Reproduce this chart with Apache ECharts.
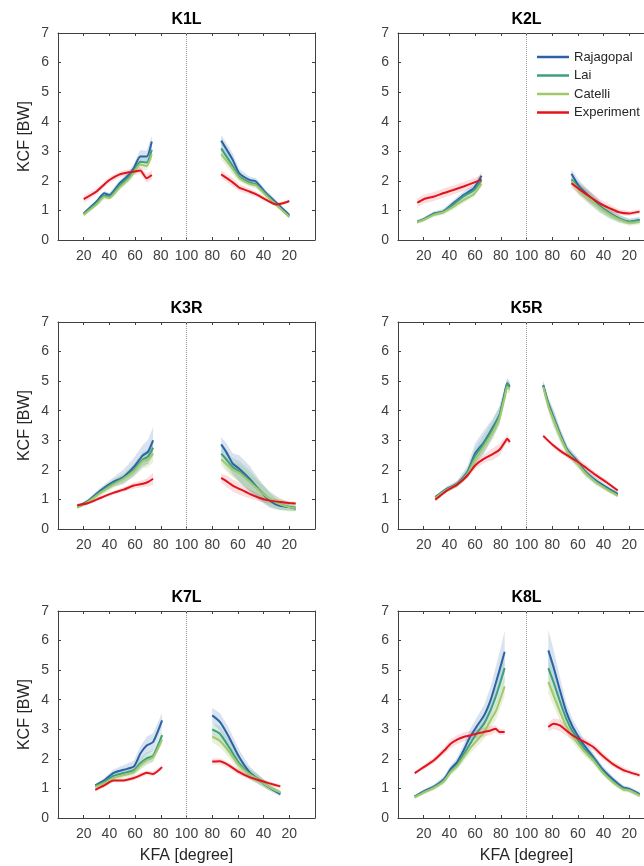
<!DOCTYPE html>
<html>
<head>
<meta charset="utf-8">
<script src="https://cdn.jsdelivr.net/npm/echarts@6/dist/echarts.min.js"></script>
<style>
  html, body { margin: 0; padding: 0; background: #fff; }
  #chart { width: 644px; height: 866px; }
</style>
</head>
<body>
<div id="chart"></div>
<script>
// panels: K1L, K2L, K3R, K5R, K7L, K8L
const panelTitles = ['K1L', 'K2L', 'K3R', 'K5R', 'K7L', 'K8L'];

// knee flexion angle (deg) of the samples, flexion phase and extension phase
const flexAngle = [
  [20, 30, 36, 40, 48, 55, 59, 64, 69, 73],
  [15, 20, 28, 35, 43, 51, 59, 65],
  [15, 23, 33, 43, 51, 59, 66, 70, 74],
  [29, 38, 46, 54, 60, 67, 74, 79, 83, 85, 87],
  [29, 36, 43, 51, 59, 64, 69, 74, 81],
  [13, 20, 28, 36, 41, 46, 51, 56, 61, 67, 72, 76, 79, 83]
];
const extAngle = [
  [73, 64, 59, 51, 46, 38, 30, 25, 20],
  [65, 59, 51, 43, 35, 28, 20, 12],
  [73, 69, 64, 59, 51, 43, 35, 28, 20, 15],
  [87, 83, 79, 74, 68, 61, 54, 46, 38, 29],
  [80, 74, 67, 59, 51, 43, 36, 27],
  [83, 79, 74, 69, 64, 56, 48, 41, 33, 25, 20, 12]
];

// KCF mean [BW]
const rajFlex = [
  [0.90, 1.30, 1.58, 1.52, 1.92, 2.20, 2.43, 2.82, 2.82, 3.33],
  [0.62, 0.70, 0.90, 0.96, 1.24, 1.52, 1.75, 2.17],
  [0.76, 0.94, 1.30, 1.59, 1.76, 2.10, 2.49, 2.61, 3.00],
  [1.08, 1.36, 1.53, 1.93, 2.55, 2.94, 3.45, 3.85, 4.59, 4.93, 4.81],
  [1.10, 1.27, 1.52, 1.63, 1.74, 2.17, 2.45, 2.57, 3.30],
  [0.72, 0.90, 1.06, 1.32, 1.66, 1.89, 2.28, 2.74, 3.08, 3.47, 3.98, 4.55, 5.00, 5.62]
];
const laiFlex = [
  [0.88, 1.25, 1.50, 1.48, 1.85, 2.12, 2.35, 2.65, 2.62, 3.05],
  [0.62, 0.70, 0.88, 0.95, 1.20, 1.48, 1.68, 2.02],
  [0.75, 0.92, 1.25, 1.55, 1.72, 2.00, 2.35, 2.45, 2.75],
  [1.06, 1.34, 1.52, 1.90, 2.48, 2.90, 3.40, 3.85, 4.55, 4.90, 4.85],
  [1.08, 1.22, 1.42, 1.52, 1.62, 1.85, 2.02, 2.10, 2.80],
  [0.72, 0.88, 1.04, 1.28, 1.58, 1.80, 2.15, 2.50, 2.85, 3.20, 3.65, 4.10, 4.50, 5.07]
];
const catFlex = [
  [0.85, 1.20, 1.45, 1.42, 1.78, 2.05, 2.28, 2.55, 2.50, 2.90],
  [0.60, 0.68, 0.85, 0.93, 1.12, 1.35, 1.55, 1.90],
  [0.72, 0.90, 1.22, 1.50, 1.70, 1.95, 2.30, 2.35, 2.55],
  [1.05, 1.32, 1.50, 1.85, 2.35, 2.80, 3.30, 3.75, 4.45, 4.80, 4.75],
  [1.05, 1.18, 1.35, 1.45, 1.55, 1.78, 1.95, 2.05, 2.65],
  [0.70, 0.86, 1.02, 1.25, 1.55, 1.75, 2.05, 2.35, 2.60, 2.90, 3.30, 3.60, 3.95, 4.45]
];
const expFlex = [
  [1.38, 1.64, 1.88, 2.03, 2.22, 2.29, 2.31, 2.35, 2.09, 2.20],
  [1.26, 1.38, 1.47, 1.58, 1.69, 1.81, 1.94, 2.05],
  [0.80, 0.87, 1.05, 1.22, 1.33, 1.47, 1.53, 1.59, 1.70],
  [0.99, 1.30, 1.50, 1.81, 2.15, 2.38, 2.54, 2.68, 2.93, 3.05, 2.94],
  [0.95, 1.10, 1.27, 1.27, 1.35, 1.44, 1.53, 1.49, 1.72],
  [1.52, 1.72, 1.95, 2.28, 2.51, 2.65, 2.74, 2.79, 2.85, 2.91, 2.96, 3.02, 2.91, 2.91]
];
const rajExt = [
  [3.36, 2.71, 2.26, 2.03, 1.98, 1.58, 1.26, 1.05, 0.85],
  [2.24, 1.81, 1.47, 1.15, 0.90, 0.73, 0.62, 0.68],
  [2.86, 2.60, 2.21, 2.04, 1.70, 1.30, 0.96, 0.79, 0.74, 0.68],
  [4.87, 4.25, 3.79, 3.23, 2.66, 2.32, 1.93, 1.64, 1.42, 1.19],
  [3.47, 3.25, 2.74, 2.06, 1.55, 1.27, 1.04, 0.81],
  [5.67, 5.11, 4.32, 3.59, 3.08, 2.51, 2.06, 1.66, 1.32, 1.04, 0.98, 0.81]
];
const laiExt = [
  [3.10, 2.50, 2.15, 1.95, 1.88, 1.55, 1.20, 1.00, 0.80],
  [2.05, 1.75, 1.42, 1.12, 0.88, 0.72, 0.62, 0.66],
  [2.55, 2.35, 2.10, 1.95, 1.65, 1.30, 1.00, 0.85, 0.75, 0.72],
  [4.85, 4.22, 3.75, 3.20, 2.62, 2.28, 1.90, 1.60, 1.38, 1.15],
  [3.00, 2.85, 2.40, 1.85, 1.50, 1.28, 1.05, 0.85],
  [5.07, 4.60, 3.95, 3.35, 2.92, 2.40, 2.00, 1.60, 1.25, 1.00, 0.95, 0.78]
];
const catExt = [
  [2.90, 2.40, 2.10, 1.90, 1.85, 1.50, 1.18, 0.98, 0.78],
  [2.00, 1.70, 1.40, 1.10, 0.86, 0.70, 0.58, 0.62],
  [2.35, 2.20, 2.00, 1.90, 1.60, 1.28, 1.02, 0.85, 0.74, 0.70],
  [4.80, 4.15, 3.70, 3.15, 2.60, 2.25, 1.88, 1.58, 1.35, 1.12],
  [2.75, 2.60, 2.25, 1.78, 1.48, 1.27, 1.05, 0.87],
  [4.60, 4.15, 3.60, 3.10, 2.75, 2.30, 1.95, 1.55, 1.22, 0.97, 0.93, 0.76]
];
const expExt = [
  [2.22, 1.95, 1.77, 1.64, 1.55, 1.36, 1.20, 1.24, 1.32],
  [1.92, 1.72, 1.47, 1.24, 1.07, 0.94, 0.90, 0.96],
  [1.73, 1.62, 1.47, 1.36, 1.19, 1.05, 0.96, 0.92, 0.88, 0.86],
  [3.15, 2.98, 2.82, 2.65, 2.48, 2.30, 2.08, 1.82, 1.59, 1.30],
  [1.91, 1.92, 1.78, 1.55, 1.38, 1.27, 1.18, 1.07],
  [3.08, 3.19, 3.13, 2.96, 2.79, 2.60, 2.40, 2.11, 1.83, 1.63, 1.55, 1.44]
];

// KCF standard deviation [BW] (shaded bands)
const rajFlexSd = [
  [0.05, 0.07, 0.08, 0.08, 0.10, 0.12, 0.15, 0.22, 0.20, 0.20],
  [0.06, 0.06, 0.07, 0.08, 0.10, 0.12, 0.12, 0.15],
  [0.05, 0.07, 0.10, 0.15, 0.25, 0.30, 0.35, 0.40, 0.45],
  [0.05, 0.08, 0.10, 0.20, 0.35, 0.40, 0.30, 0.30, 0.20, 0.15, 0.15],
  [0.06, 0.08, 0.12, 0.15, 0.20, 0.25, 0.30, 0.30, 0.25],
  [0.06, 0.07, 0.08, 0.10, 0.12, 0.15, 0.20, 0.25, 0.30, 0.35, 0.45, 0.55, 0.60, 0.70]
];
const laiFlexSd = [
  [0.05, 0.07, 0.08, 0.08, 0.10, 0.10, 0.12, 0.15, 0.15, 0.18],
  [0.06, 0.06, 0.07, 0.08, 0.10, 0.10, 0.10, 0.12],
  [0.05, 0.07, 0.10, 0.12, 0.15, 0.20, 0.25, 0.25, 0.30],
  [0.05, 0.08, 0.10, 0.15, 0.25, 0.30, 0.30, 0.30, 0.20, 0.20, 0.15],
  [0.06, 0.08, 0.10, 0.12, 0.15, 0.20, 0.20, 0.20, 0.20],
  [0.06, 0.07, 0.08, 0.10, 0.10, 0.12, 0.15, 0.20, 0.22, 0.25, 0.30, 0.35, 0.40, 0.45]
];
const catFlexSd = [
  [0.05, 0.07, 0.08, 0.08, 0.10, 0.10, 0.12, 0.15, 0.15, 0.18],
  [0.06, 0.06, 0.07, 0.08, 0.10, 0.10, 0.10, 0.12],
  [0.05, 0.07, 0.10, 0.12, 0.15, 0.20, 0.25, 0.25, 0.30],
  [0.05, 0.08, 0.10, 0.12, 0.20, 0.20, 0.25, 0.20, 0.20, 0.20, 0.15],
  [0.06, 0.08, 0.10, 0.10, 0.12, 0.15, 0.15, 0.15, 0.15],
  [0.06, 0.07, 0.08, 0.10, 0.10, 0.12, 0.15, 0.18, 0.20, 0.22, 0.25, 0.30, 0.30, 0.35]
];
const expFlexSd = [
  [0.12, 0.10, 0.10, 0.10, 0.10, 0.10, 0.10, 0.12, 0.15, 0.15],
  [0.15, 0.15, 0.15, 0.15, 0.15, 0.15, 0.15, 0.15],
  [0.06, 0.06, 0.06, 0.06, 0.08, 0.10, 0.12, 0.15, 0.20],
  [0.06, 0.06, 0.08, 0.10, 0.12, 0.15, 0.20, 0.20, 0.15, 0.12, 0.10],
  [0.06, 0.06, 0.06, 0.06, 0.08, 0.08, 0.08, 0.08, 0.08],
  [0.06, 0.08, 0.10, 0.12, 0.15, 0.15, 0.15, 0.15, 0.15, 0.15, 0.15, 0.12, 0.10, 0.10]
];
const rajExtSd = [
  [0.20, 0.22, 0.15, 0.12, 0.12, 0.10, 0.08, 0.06, 0.05],
  [0.15, 0.20, 0.20, 0.18, 0.15, 0.12, 0.10, 0.10],
  [0.25, 0.30, 0.35, 0.45, 0.45, 0.35, 0.25, 0.15, 0.10, 0.08],
  [0.15, 0.20, 0.25, 0.20, 0.15, 0.15, 0.12, 0.10, 0.08, 0.06],
  [0.25, 0.30, 0.30, 0.25, 0.20, 0.15, 0.10, 0.08],
  [0.70, 0.60, 0.45, 0.30, 0.25, 0.20, 0.15, 0.12, 0.10, 0.08, 0.08, 0.08]
];
const laiExtSd = [
  [0.18, 0.18, 0.12, 0.10, 0.10, 0.08, 0.07, 0.06, 0.05],
  [0.15, 0.20, 0.20, 0.18, 0.15, 0.12, 0.10, 0.10],
  [0.25, 0.30, 0.30, 0.35, 0.35, 0.30, 0.25, 0.20, 0.15, 0.10],
  [0.15, 0.20, 0.25, 0.20, 0.15, 0.15, 0.12, 0.10, 0.08, 0.06],
  [0.20, 0.25, 0.25, 0.20, 0.18, 0.15, 0.10, 0.08],
  [0.50, 0.45, 0.35, 0.25, 0.20, 0.18, 0.15, 0.12, 0.10, 0.08, 0.08, 0.08]
];
const catExtSd = [
  [0.18, 0.18, 0.12, 0.10, 0.10, 0.08, 0.07, 0.06, 0.05],
  [0.15, 0.20, 0.20, 0.18, 0.15, 0.12, 0.10, 0.10],
  [0.20, 0.25, 0.25, 0.30, 0.30, 0.30, 0.25, 0.20, 0.15, 0.10],
  [0.15, 0.20, 0.25, 0.20, 0.15, 0.15, 0.12, 0.10, 0.08, 0.06],
  [0.20, 0.20, 0.20, 0.20, 0.18, 0.15, 0.10, 0.08],
  [0.40, 0.35, 0.30, 0.22, 0.20, 0.15, 0.12, 0.10, 0.08, 0.08, 0.08, 0.08]
];
const expExtSd = [
  [0.12, 0.15, 0.12, 0.10, 0.08, 0.08, 0.06, 0.06, 0.05],
  [0.15, 0.18, 0.18, 0.15, 0.12, 0.10, 0.08, 0.08],
  [0.15, 0.20, 0.20, 0.20, 0.15, 0.12, 0.10, 0.08, 0.06, 0.06],
  [0.08, 0.08, 0.08, 0.08, 0.10, 0.12, 0.12, 0.10, 0.08, 0.06],
  [0.10, 0.10, 0.10, 0.10, 0.08, 0.08, 0.06, 0.06],
  [0.15, 0.18, 0.20, 0.18, 0.15, 0.12, 0.12, 0.12, 0.10, 0.10, 0.08, 0.08]
];

const modelNames = ['Rajagopal', 'Lai', 'Catelli', 'Experiment'];
const modelColors = ['#2a62a6', '#3e9e82', '#a2c86c', '#e0141c'];
const bandColors = ['rgba(42,98,166,0.18)', 'rgba(62,158,130,0.18)', 'rgba(162,200,108,0.25)', 'rgba(224,20,28,0.14)'];
const flexData = [rajFlex, laiFlex, catFlex, expFlex];
const extData = [rajExt, laiExt, catExt, expExt];
const flexSd = [rajFlexSd, laiFlexSd, catFlexSd, expFlexSd];
const extSd = [rajExtSd, laiExtSd, catExtSd, expExtSd];

const FONT = 'Liberation Sans, Arial, Helvetica, sans-serif';
const axisColor = '#404040';
const colLeft = [58, 398];
const rowTop = [33, 322, 611];
const gridW = 257;
const gridH = 207;

// extension phase is drawn mirrored: x = 200 - angle
const toX = (a, ext) => (ext ? 200 - a : a);

const chart = echarts.init(document.getElementById('chart'), null, { renderer: 'canvas' });

const grid = [], xAxis = [], yAxis = [], series = [], graphic = [];

panelTitles.forEach((title, p) => {
  const col = p % 2, row = Math.floor(p / 2);
  // right column runs past the canvas edge, as in the original figure
  grid.push({
    left: colLeft[col], top: rowTop[row], width: gridW, height: gridH,
    containLabel: false, outerBoundsMode: 'none'
  });

  graphic.push({
    type: 'text',
    x: colLeft[col] + gridW / 2,
    y: rowTop[row] - 13,
    style: {
      text: title, font: 'bold 16px ' + FONT, fill: '#000',
      align: 'center', verticalAlign: 'middle', textAlign: 'center', textVerticalAlign: 'middle'
    }
  });

  const common = {
    gridIndex: p, type: 'value',
    axisLine: { show: true, onZero: false, lineStyle: { color: axisColor, width: 1 } },
    axisTick: { show: true, inside: true, length: 3, lineStyle: { color: axisColor } },
    splitLine: { show: false }
  };
  xAxis.push(Object.assign({}, common, {
    position: 'bottom', min: 0, max: 200, interval: 20,
    axisLabel: {
      color: axisColor, fontSize: 14, fontFamily: FONT, margin: 9,
      formatter: v => (v === 0 || v === 200) ? '' : String(v <= 100 ? v : 200 - v)
    },
    name: row === 2 ? 'KFA [degree]' : '', nameLocation: 'middle', nameGap: 30,
    nameTextStyle: { color: '#262626', fontSize: 16, fontFamily: FONT }
  }));
  xAxis.push(Object.assign({}, common, {
    position: 'top', min: 0, max: 200, interval: 20, axisLabel: { show: false }
  }));
  yAxis.push(Object.assign({}, common, {
    position: 'left', min: 0, max: 7, interval: 1,
    axisLabel: { color: axisColor, fontSize: 14, fontFamily: FONT, margin: 9 },
    name: col === 0 ? 'KCF [BW]' : '', nameLocation: 'middle', nameGap: 25,
    nameTextStyle: { color: '#262626', fontSize: 16, fontFamily: FONT }
  }));
  yAxis.push(Object.assign({}, common, {
    position: 'right', min: 0, max: 7, interval: 1, axisLabel: { show: false }
  }));

  const xi = p * 2, yi = p * 2;

  // shaded bands first
  modelNames.forEach((name, m) => {
    [[flexAngle[p], flexData[m][p], flexSd[m][p], false],
     [extAngle[p], extData[m][p], extSd[m][p], true]].forEach(([ang, vals, sd, ext]) => {
      const band = ang.map((a, i) => [toX(a, ext), vals[i] - sd[i], vals[i] + sd[i]]);
      series.push({
        type: 'custom', name: name + ' sd', xAxisIndex: xi, yAxisIndex: yi, silent: true,
        data: band, encode: { x: 0, y: [1, 2] },
        renderItem: (params, api) => {
          if (params.dataIndex !== 0) return null;
          const up = band.map(d => api.coord([d[0], d[2]]));
          const lo = band.map(d => api.coord([d[0], d[1]])).reverse();
          return { type: 'polygon', shape: { points: up.concat(lo) }, style: { fill: bandColors[m] } };
        }
      });
    });
  });

  // mean curves
  modelNames.forEach((name, m) => {
    [[flexAngle[p], flexData[m][p], false], [extAngle[p], extData[m][p], true]].forEach(([ang, vals, ext], k) => {
      const s = {
        type: 'line', name, xAxisIndex: xi, yAxisIndex: yi,
        data: ang.map((a, i) => [toX(a, ext), vals[i]]),
        symbol: 'none', smooth: 0.2, animation: false,
        lineStyle: { color: modelColors[m], width: 2 },
        itemStyle: { color: modelColors[m] }
      };
      if (m === 0 && k === 0) {
        s.markLine = {
          silent: true, symbol: 'none', label: { show: false },
          lineStyle: { color: '#9a9a9a', type: 'dotted', width: 1 },
          data: [{ xAxis: 100 }]
        };
      }
      series.push(s);
    });
  });
});

chart.setOption({
  animation: false,
  backgroundColor: '#fff',
  textStyle: { fontFamily: FONT },
  grid, xAxis, yAxis, series, graphic,
  legend: {
    data: modelNames.map(n => ({ name: n, icon: 'rect' })),
    orient: 'vertical', left: 537, top: 50, padding: 0,
    itemWidth: 32, itemHeight: 2.5, itemGap: 4.5,
    textStyle: { fontSize: 13, color: '#262626', fontFamily: FONT, lineHeight: 14 }
  }
});
</script>
</body>
</html>
